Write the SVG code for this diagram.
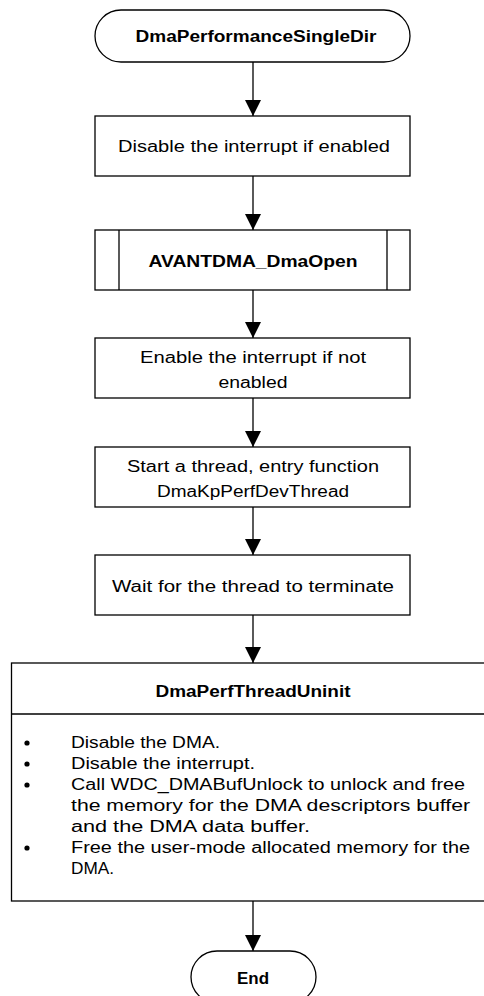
<svg xmlns="http://www.w3.org/2000/svg" width="484" height="996" viewBox="0 0 484 996">
<style>
.s{fill:#fff;stroke:#000;stroke-width:1.3}
.t{font-family:"Liberation Sans",Arial,sans-serif;font-size:16px;fill:#000}
.c{text-anchor:middle}
.b{font-weight:bold}
.e{stroke:#000;stroke-width:1.3;fill:none}
</style>
<defs>
<marker id="ah" markerUnits="userSpaceOnUse" markerWidth="16" markerHeight="16" refX="16" refY="8" orient="auto" viewBox="0 0 16 16">
<path d="M0,0 L16,8 L0,16 z" fill="#000"/>
</marker>
</defs>
<rect width="484" height="996" fill="#fff"/>
<g id="connectors">
<line class="e" x1="253" y1="62" x2="253" y2="116" marker-end="url(#ah)"/>
<line class="e" x1="253" y1="176" x2="253" y2="230" marker-end="url(#ah)"/>
<line class="e" x1="253" y1="290" x2="253" y2="338" marker-end="url(#ah)"/>
<line class="e" x1="253" y1="398" x2="253" y2="447" marker-end="url(#ah)"/>
<line class="e" x1="253" y1="507" x2="253" y2="555" marker-end="url(#ah)"/>
<line class="e" x1="253" y1="615" x2="253" y2="663" marker-end="url(#ah)"/>
<line class="e" x1="253" y1="901" x2="253" y2="951" marker-end="url(#ah)"/>
</g>
<g id="start">
<rect class="s" x="95" y="10" width="315" height="52" rx="26"/>
<text class="t c b" x="256" y="42" textLength="241" lengthAdjust="spacingAndGlyphs">DmaPerformanceSingleDir</text>
</g>
<g id="disable-int">
<rect class="s" x="95" y="116" width="315" height="60"/>
<text class="t c" x="254" y="152" textLength="272" lengthAdjust="spacingAndGlyphs">Disable the interrupt if enabled</text>
</g>
<g id="dmaopen">
<rect class="s" x="95" y="230" width="315" height="60"/>
<line class="e" x1="119" y1="230" x2="119" y2="290"/>
<line class="e" x1="387" y1="230" x2="387" y2="290"/>
<text class="t c b" x="253" y="267" textLength="209" lengthAdjust="spacingAndGlyphs">AVANTDMA_DmaOpen</text>
</g>
<g id="enable-int">
<rect class="s" x="95" y="338" width="315" height="60"/>
<text class="t c" x="253" y="363" textLength="226" lengthAdjust="spacingAndGlyphs">Enable the interrupt if not</text>
<text class="t c" x="253" y="388" textLength="69" lengthAdjust="spacingAndGlyphs">enabled</text>
</g>
<g id="start-thread">
<rect class="s" x="95" y="447" width="315" height="60"/>
<text class="t c" x="253" y="472" textLength="252" lengthAdjust="spacingAndGlyphs">Start a thread, entry function</text>
<text class="t c" x="253" y="497" textLength="192" lengthAdjust="spacingAndGlyphs">DmaKpPerfDevThread</text>
</g>
<g id="wait">
<rect class="s" x="95" y="555" width="315" height="60"/>
<text class="t c" x="253" y="592" textLength="282" lengthAdjust="spacingAndGlyphs">Wait for the thread to terminate</text>
</g>
<g id="uninit">
<rect class="s" x="11.5" y="663" width="490" height="238"/>
<line class="e" x1="11.5" y1="714" x2="490" y2="714"/>
<text class="t c b" x="253" y="697" textLength="195" lengthAdjust="spacingAndGlyphs">DmaPerfThreadUninit</text>
<g fill="#000">
<circle cx="27" cy="743" r="2.6"/>
<circle cx="27" cy="764" r="2.6"/>
<circle cx="27" cy="785" r="2.6"/>
<circle cx="27" cy="848" r="2.6"/>
</g>
<text class="t" x="71" y="748" textLength="149" lengthAdjust="spacingAndGlyphs">Disable the DMA.</text>
<text class="t" x="71" y="769" textLength="184" lengthAdjust="spacingAndGlyphs">Disable the interrupt.</text>
<text class="t" x="71" y="790" textLength="394" lengthAdjust="spacingAndGlyphs">Call WDC_DMABufUnlock to unlock and free</text>
<text class="t" x="71" y="811" textLength="399" lengthAdjust="spacingAndGlyphs">the memory for the DMA descriptors buffer</text>
<text class="t" x="71" y="832" textLength="239" lengthAdjust="spacingAndGlyphs">and the DMA data buffer.</text>
<text class="t" x="71" y="853" textLength="399" lengthAdjust="spacingAndGlyphs">Free the user-mode allocated memory for the</text>
<text class="t" x="71" y="874" textLength="43" lengthAdjust="spacingAndGlyphs">DMA.</text>
</g>
<g id="end">
<rect class="s" x="191" y="951" width="125" height="52" rx="26"/>
<text class="t c b" x="253" y="984" textLength="32" lengthAdjust="spacingAndGlyphs">End</text>
</g>
</svg>
